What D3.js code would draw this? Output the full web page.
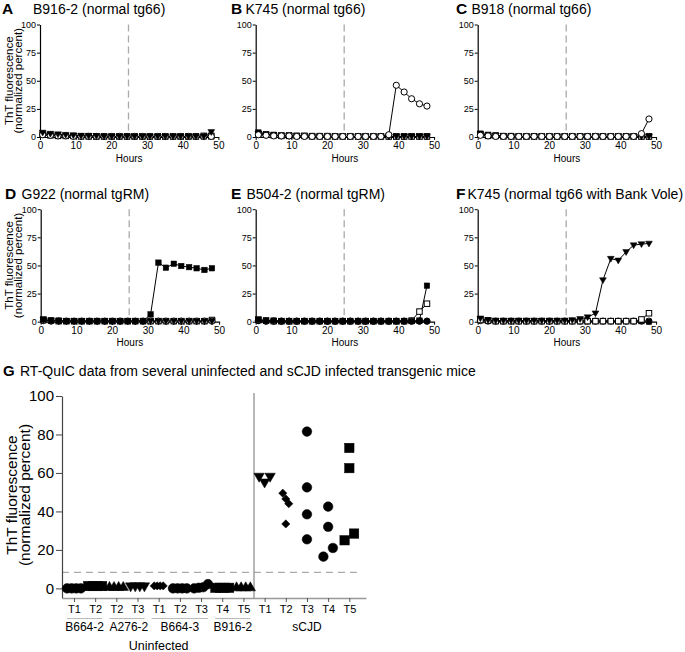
<!DOCTYPE html>
<html><head><meta charset="utf-8">
<script src="https://cdn.jsdelivr.net/npm/d3@7/dist/d3.min.js"></script>
<style>body{margin:0;background:#fff;} svg{display:block;font-family:"Liberation Sans",Arial,Helvetica,sans-serif;}</style>
</head><body><svg id="c" width="685" height="652"></svg>
<script>
// ---------- DATA: time-course panels ----------
const hours = [0.75, 2.9, 5.05, 7.2, 9.35, 11.5, 13.65, 15.8, 17.95, 20.1, 22.25, 24.4, 26.5, 28.7, 30.8, 33.0, 35.1, 37.3, 39.4, 41.6, 43.7, 45.9, 48.0];
const xTicksHours = [0, 10, 20, 30, 40, 50];
const yTicksPercent = [0, 25, 50, 75, 100];
const seedingEndHour = 24.8;

const A_filledSquare   = [3, 2, 1.5, 1, 1, 1, 1, 0.5, 0.5, 0.5, 0.5, 0.5, 0.5, 0.5, 0.5, 0.5, 0.5, 0.5, 0.5, 0.5, 0.5, 0.5, 0.5];
const A_openSquare     = [2, 1.5, 1, 1, 1, 0.5, 0.5, 0.5, 0.5, 0.5, 0.5, 0.5, 0.5, 0.5, 0.5, 0.5, 0.5, 0.5, 0.5, 0.5, 0.5, 1, 1];
const A_openCircle     = [2, 1.5, 1, 1, 0.5, 0.5, 0.5, 0.5, 0.5, 0.5, 0.5, 0.5, 0.5, 0.5, 0.5, 0.5, 0.5, 0.5, 0.5, 0.5, 0.5, 0.5, 0.5];
const A_filledTriangle = [4, 3, 2.5, 2, 1.5, 1, 1, 1, 0.5, 0.5, 0.5, 0.5, 0.5, 0.5, 0.5, 0.5, 0.5, 0.5, 0.5, 0.5, 0.5, 0.5, 4.5];

const B_filledSquare   = [4, 2.5, 2, 1.5, 1.5, 1, 1, 1, 1, 1, 0.5, 0.5, 0.5, 0.5, 0.5, 0.5, 0.5, 0.5, 0.5, 0.5, 0.5, 0.5, 0.5];
const B_openSquare     = [2.5, 2, 1.5, 1, 1, 1, 1, 0.5, 0.5, 0.5, 0.5, 0.5, 0.5, 0.5, 0.5, 0.5, 0.5, 0.5, 0.5, 0.5, 0.5, 0.5, 0.5];
const B_openCircle     = [2, 1.5, 1, 1, 1, 0.5, 0.5, 0.5, 0.5, 0.5, 0.5, 0.5, 0.5, 0.5, 0.5, 0.5, 0.5, 2, 46, 40, 34, 29.5, 27.5];
const B_filledTriangle = [3, 2, 1.5, 1, 1, 1, 0.5, 0.5, 0.5, 0.5, 0.5, 0.5, 0.5, 0.5, 0.5, 0.5, 0.5, 0.5, 0.5, 0.5, 0.5, 0.5, 0.5];

const C_filledSquare   = [3, 2, 1.5, 1, 1, 0.5, 0.5, 0.5, 0.5, 0.5, 0.5, 0.5, 0.5, 0.5, 0.5, 0.5, 0.5, 0.5, 0.5, 0.5, 0.5, 0.5, 0.5];
const C_openSquare     = [2, 1, 1, 0.5, 0.5, 0.5, 0.5, 0.5, 0.5, 0.5, 0.5, 0.5, 0.5, 0.5, 0.5, 0.5, 0.5, 0.5, 0.5, 0.5, 0.5, 0.5, 0.5];
const C_openCircle     = [1.5, 1, 0.5, 0.5, 0.5, 0.5, 0.5, 0.5, 0.5, 0.5, 0.5, 0.5, 0.5, 0.5, 0.5, 0.5, 0.5, 0.5, 0.5, 0.5, 0.5, 3, 16];
const C_filledTriangle = [2.5, 1.5, 1, 1, 0.5, 0.5, 0.5, 0.5, 0.5, 0.5, 0.5, 0.5, 0.5, 0.5, 0.5, 0.5, 0.5, 0.5, 0.5, 0.5, 0.5, 0.5, 0.5];

const D_filledSquare   = [2, 1, 1, 0.5, 0.5, 0.5, 0.5, 0.5, 0.5, 0.5, 0.5, 0.5, 0.5, 0.5, 6.5, 52.5, 48, 51.5, 49.5, 48.5, 47.5, 46, 47.5];
const D_openSquare     = [1.5, 1, 0.5, 0.5, 0.5, 0.5, 0.5, 0.5, 0.5, 0.5, 0.5, 0.5, 0.5, 0.5, 0.5, 0.5, 0.5, 0.5, 0.5, 0.5, 0.5, 0.5, 1.5];
const D_openCircle     = [1, 0.5, 0.5, 0.5, 0.5, 0.5, 0.5, 0.5, 0.5, 0.5, 0.5, 0.5, 0.5, 0.5, 0.5, 0.5, 0.5, 0.5, 0.5, 0.5, 0.5, 0.5, 0.5];
const D_filledTriangle = [1.5, 1, 0.5, 0.5, 0.5, 0.5, 0.5, 0.5, 0.5, 0.5, 0.5, 0.5, 0.5, 0.5, 0.5, 0.5, 0.5, 0.5, 0.5, 0.5, 0.5, 0.5, 0.5];

const E_filledSquare   = [2, 1, 1, 0.5, 0.5, 0.5, 0.5, 0.5, 0.5, 0.5, 0.5, 0.5, 0.5, 0.5, 0.5, 0.5, 0.5, 0.5, 0.5, 0.5, 0.5, 1, 32];
const E_openSquare     = [1.5, 1, 0.5, 0.5, 0.5, 0.5, 0.5, 0.5, 0.5, 0.5, 0.5, 0.5, 0.5, 0.5, 0.5, 0.5, 0.5, 0.5, 0.5, 0.5, 1, 9, 16];
const E_openCircle     = [1, 0.5, 0.5, 0.5, 0.5, 0.5, 0.5, 0.5, 0.5, 0.5, 0.5, 0.5, 0.5, 0.5, 0.5, 0.5, 0.5, 0.5, 0.5, 0.5, 0.5, 0.5, 0.5];
const E_filledCircle   = [1, 0.5, 0.5, 0.5, 0.5, 0.5, 0.5, 0.5, 0.5, 0.5, 0.5, 0.5, 0.5, 0.5, 0.5, 0.5, 0.5, 0.5, 0.5, 0.5, 0.5, 0.5, 0.5];

const F_filledTriangle = [3, 1.5, 1, 1, 1, 1, 1, 1, 1, 1, 1, 1, 1.5, 2.5, 4, 7.5, 37, 56, 54.5, 62, 68, 69, 69.5];
const F_openSquare     = [1.5, 1, 0.5, 0.5, 0.5, 0.5, 0.5, 0.5, 0.5, 0.5, 0.5, 0.5, 0.5, 0.5, 0.5, 0.5, 0.5, 0.5, 0.5, 0.5, 0.5, 2, 7.5];
const F_filledSquare   = [2, 1, 0.5, 0.5, 0.5, 0.5, 0.5, 0.5, 0.5, 0.5, 0.5, 0.5, 0.5, 0.5, 0.5, 0.5, 0.5, 0.5, 0.5, 0.5, 0.5, 0.5, 0];
const F_openCircle     = [1, 0.5, 0.5, 0.5, 0.5, 0.5, 0.5, 0.5, 0.5, 0.5, 0.5, 0.5, 0.5, 0.5, 0.5, 0.5, 0.5, 0.5, 0.5, 0.5, 0.5, 0.5, 0.5];

const panelLetters = ["A", "B", "C", "D", "E", "F"];
const panelTitles = ["B916-2 (normal tg66)", "K745 (normal tg66)", "B918 (normal tg66)",
                     "G922 (normal tgRM)", "B504-2 (normal tgRM)", "K745 (normal tg66 with Bank Vole)"];

// ---------- DATA: panel G ----------
const gTickLabels = ["T1", "T2", "T2", "T3", "T1", "T2", "T3", "T4", "T5", "T1", "T2", "T3", "T4", "T5"];
const gValues = [
  [0, 0, 0, 0],
  [1.2, 1.2, 1.2, 1.2],
  [0.8, 0.8, 0.8, 0.8],
  [1, 1, 1, 1],
  [1.3, 1.3, 1.3, 1.3],
  [0, 0, 0, 0],
  [0, 0.3, 0.6, 2.2],
  [0.3, 0.3, 0.3, 0.3],
  [0.6, 0.6, 0.6, 0.6],
  [58, 55, 58],
  [49.5, 46.5, 44, 33.5],
  [81.5, 52.5, 38.5, 25.5],
  [42.5, 32, 16.5, 21],
  [73, 62.5, 25, 28.5]
];
const gGroupLabels = ["B664-2", "A276-2", "B664-3", "B916-2", "sCJD"];
const gGroupSpans = [[0, 1], [2, 3], [4, 6], [7, 8], [9, 13]];
const gSuperLabel = "Uninfected";
const gSuperSpan = [0, 8];
const gThreshold = 8.3;
const gYTicks = [0, 20, 40, 60, 80, 100];
const gTitle = "RT-QuIC data from several uninfected and sCJD infected transgenic mice";

// ---------- STYLE ----------
const gMarkers = ["fci", "fsq", "ftu", "ftd", "fdi", "fci", "fci", "fsq", "ftu", "ftd", "fdi", "fci", "fci", "fsq"];
const panelSeries = [
  [[A_filledSquare, "fsq"], [A_openSquare, "osq"], [A_openCircle, "oci"], [A_filledTriangle, "ftd"]],
  [[B_filledSquare, "fsq"], [B_openSquare, "osq"], [B_filledTriangle, "ftd"], [B_openCircle, "oci"]],
  [[C_filledSquare, "fsq"], [C_openSquare, "osq"], [C_filledTriangle, "ftd"], [C_openCircle, "oci"]],
  [[D_openSquare, "osq"], [D_openCircle, "oci"], [D_filledTriangle, "ftd"], [D_filledSquare, "fsq"]],
  [[E_openCircle, "oci"], [E_filledCircle, "fci"], [E_openSquare, "osq"], [E_filledSquare, "fsq"]],
  [[F_openCircle, "oci"], [F_filledSquare, "fsq"], [F_openSquare, "osq"], [F_filledTriangle, "ftd"]]
];
const panelLayout = [
  {x0: 40,    y0: 137,   lx: 2,   tx: 33,    ty: 13.5},
  {x0: 255.7, y0: 137,   lx: 231, tx: 245.5, ty: 13.5},
  {x0: 477.7, y0: 137,   lx: 456, tx: 471.5, ty: 13.5},
  {x0: 40.7,  y0: 321.7, lx: 5,   tx: 21.5,  ty: 199},
  {x0: 255.7, y0: 321.7, lx: 231, tx: 246.5, ty: 199},
  {x0: 477.7, y0: 321.7, lx: 456, tx: 467.5, ty: 199}
];
const PW = 178.4, PH = 112.5;

const svg = d3.select("#c");

function marker(g, type, cx, cy, s) {
  const filled = type[0] === "f";
  const fill = filled ? "#000" : "#fff";
  const kind = type.slice(1);
  let el;
  if (kind === "sq") {
    el = g.append("rect").attr("x", cx - s / 2).attr("y", cy - s / 2).attr("width", s).attr("height", s);
  } else if (kind === "ci") {
    el = g.append("circle").attr("cx", cx).attr("cy", cy).attr("r", s / 2);
  } else if (kind === "td") {
    const w = s * 1.1, h = s * 0.95;
    el = g.append("path").attr("d", `M${cx - w / 2},${cy - h * 0.4}L${cx + w / 2},${cy - h * 0.4}L${cx},${cy + h * 0.6}Z`);
  } else if (kind === "tu") {
    const w = s * 1.1, h = s * 0.95;
    el = g.append("path").attr("d", `M${cx - w / 2},${cy + h * 0.4}L${cx + w / 2},${cy + h * 0.4}L${cx},${cy - h * 0.6}Z`);
  } else if (kind === "di") {
    const r = s * 0.55;
    el = g.append("path").attr("d", `M${cx},${cy - r}L${cx + r},${cy}L${cx},${cy + r}L${cx - r},${cy}Z`);
  }
  el.attr("fill", fill).attr("stroke", "#000").attr("stroke-width", filled ? 0.5 : 1);
  return el;
}

// ---------- time-course panels ----------
panelLayout.forEach((p, i) => {
  const x = d3.scaleLinear().domain([0, 50]).range([p.x0, p.x0 + PW]);
  const y = d3.scaleLinear().domain([0, 100]).range([p.y0, p.y0 - PH]);
  const g = svg.append("g");

  g.append("line").attr("x1", x(seedingEndHour)).attr("x2", x(seedingEndHour))
    .attr("y1", y(100)).attr("y2", y(0))
    .attr("stroke", "#aaa").attr("stroke-width", 1.3).attr("stroke-dasharray", "7,4");

  const xa = g.append("g").attr("transform", `translate(0,${p.y0})`)
    .call(d3.axisBottom(x).tickValues(xTicksHours).tickSize(3).tickSizeOuter(0).tickPadding(2));
  xa.selectAll("text").attr("font-size", 10).attr("font-family", "Liberation Sans, Arial, sans-serif").attr("fill", "#000");
  const ya = g.append("g").attr("transform", `translate(${p.x0},0)`)
    .call(d3.axisLeft(y).tickValues(yTicksPercent).tickSize(3).tickSizeOuter(0).tickPadding(1));
  ya.selectAll("text").attr("font-size", 9).attr("font-family", "Liberation Sans, Arial, sans-serif").attr("fill", "#000");
  [xa, ya].forEach(a => { a.select(".domain").attr("stroke", "#000").attr("stroke-width", 1.2); a.selectAll(".tick line").attr("stroke", "#000"); });

  g.append("text").attr("x", (x(0) + x(50)) / 2).attr("y", p.y0 + 24.5).attr("text-anchor", "middle")
    .attr("font-size", 10).text("Hours");

  if (i % 3 === 0) {
    const cy = (y(0) + y(100)) / 2;
    g.append("text").attr("transform", `translate(12.5,${cy}) rotate(-90)`).attr("text-anchor", "middle")
      .attr("font-size", 11.5).text("ThT fluorescence");
    g.append("text").attr("transform", `translate(21.5,${cy}) rotate(-90)`).attr("text-anchor", "middle")
      .attr("font-size", 11.5).text("(normalized percent)");
  }

  g.append("text").attr("x", p.lx).attr("y", p.ty).attr("font-size", 15.5).attr("font-weight", "bold").text(panelLetters[i]);
  g.append("text").attr("x", p.tx).attr("y", p.ty).attr("font-size", 14).text(panelTitles[i]);

  const line = d3.line().x((d, k) => x(hours[k])).y(d => y(d));
  panelSeries[i].forEach(([vals]) => {
    g.append("path").attr("d", line(vals)).attr("fill", "none").attr("stroke", "#000").attr("stroke-width", 1);
  });
  panelSeries[i].forEach(([vals, type]) => {
    const size = type.endsWith("sq") ? 5.5 : 6.2;
    vals.forEach((v, k) => marker(g, type, x(hours[k]), y(v), size));
  });
});

// ---------- panel G ----------
const G = svg.append("g");
G.append("text").attr("x", 3).attr("y", 376).attr("font-size", 15).attr("font-weight", "bold").text("G");
G.append("text").attr("x", 20).attr("y", 376).attr("font-size", 14).text(gTitle);

const gx = d3.scalePoint().domain(d3.range(gTickLabels.length)).range([62, 366]).padding(0.676).align(0.418);
const gy = d3.scaleLinear().domain([-5, 100]).range([598, 396]);

// threshold dashed line
G.append("line").attr("x1", 62).attr("x2", 362).attr("y1", gy(gThreshold)).attr("y2", gy(gThreshold))
  .attr("stroke", "#aaa").attr("stroke-width", 1.2).attr("stroke-dasharray", "7,5");
// separator
const sepX = (gx(gGroupSpans[3][1]) + gx(gGroupSpans[4][0])) / 2;
G.append("line").attr("x1", sepX).attr("x2", sepX).attr("y1", gy(100) - 3).attr("y2", 598)
  .attr("stroke", "#888").attr("stroke-width", 1.2);

// y axis
const gya = G.append("g").attr("transform", "translate(62,0)")
  .call(d3.axisLeft(gy).tickValues(gYTicks).tickSize(6).tickSizeOuter(0).tickPadding(2));
gya.select(".domain").attr("stroke", "#444").attr("stroke-width", 1.2);
gya.selectAll(".tick line").attr("stroke", "#444");
gya.selectAll("text").attr("font-size", 15).attr("font-family", "Liberation Sans, Arial, sans-serif").attr("fill", "#000");

// x axis
const gxa = G.append("g").attr("transform", "translate(0,598)")
  .call(d3.axisBottom(gx).tickFormat(i => gTickLabels[i]).tickSize(4).tickSizeOuter(0).tickPadding(3));
gxa.select(".domain").attr("stroke", "#999").attr("stroke-width", 1.6);
gxa.selectAll(".tick line").attr("stroke", "#555");
gxa.selectAll("text").attr("font-size", 11).attr("font-family", "Liberation Sans, Arial, sans-serif").attr("fill", "#000");

// group labels
gGroupLabels.forEach((lab, j) => {
  const [a, b] = gGroupSpans[j];
  const cx = (gx(a) + gx(b)) / 2;
  if (b <= gSuperSpan[1]) {
    G.append("line").attr("x1", gx(a) - 7).attr("x2", gx(b) + 7).attr("y1", 618.5).attr("y2", 618.5)
      .attr("stroke", "#bbb").attr("stroke-width", 1);
  }
  G.append("text").attr("x", cx + (j === 1 ? 2 : 0)).attr("y", 631).attr("text-anchor", "middle").attr("font-size", 12).text(lab);
});
G.append("text").attr("x", (gx(gSuperSpan[0]) + gx(gSuperSpan[1])) / 2).attr("y", 649.5)
  .attr("text-anchor", "middle").attr("font-size", 12.5).text(gSuperLabel);

// y label
G.append("text").attr("transform", "translate(17,495) rotate(-90)").attr("text-anchor", "middle")
  .attr("font-size", 15.5).text("ThT fluorescence");
G.append("text").attr("transform", "translate(30,495) rotate(-90)").attr("text-anchor", "middle")
  .attr("font-size", 15.5).text("(normalized percent)");

// points: cluster near-equal values and spread them side by side
gValues.forEach((vals, ci) => {
  const type = gMarkers[ci];
  const size = type.endsWith("ci") ? 9.6 : type.endsWith("sq") ? 9.4 : type.endsWith("di") ? 7.5 : 9.5;
  const pts = vals.map((v, k) => ({v, k, py: gy(v)}));
  const clusters = [];
  const sorted = pts.slice().sort((a, b) => a.py - b.py);
  sorted.forEach(p => {
    const last = clusters[clusters.length - 1];
    if (last && Math.abs(p.py - last[last.length - 1].py) < 9) last.push(p); else clusters.push([p]);
  });
  clusters.forEach(c => {
    c.sort((a, b) => a.k - b.k);
    const n = c.length;
    const step = n <= 2 ? 9.5 : (type.endsWith("di") ? 3 : (ci >= 9 ? 5.5 : 4.6));
    c.forEach((p, m) => { p.px = gx(ci) + (m - (n - 1) / 2) * step; });
  });
  pts.forEach(p => marker(G, type, p.px, p.py, size));
});
</script></body></html>
